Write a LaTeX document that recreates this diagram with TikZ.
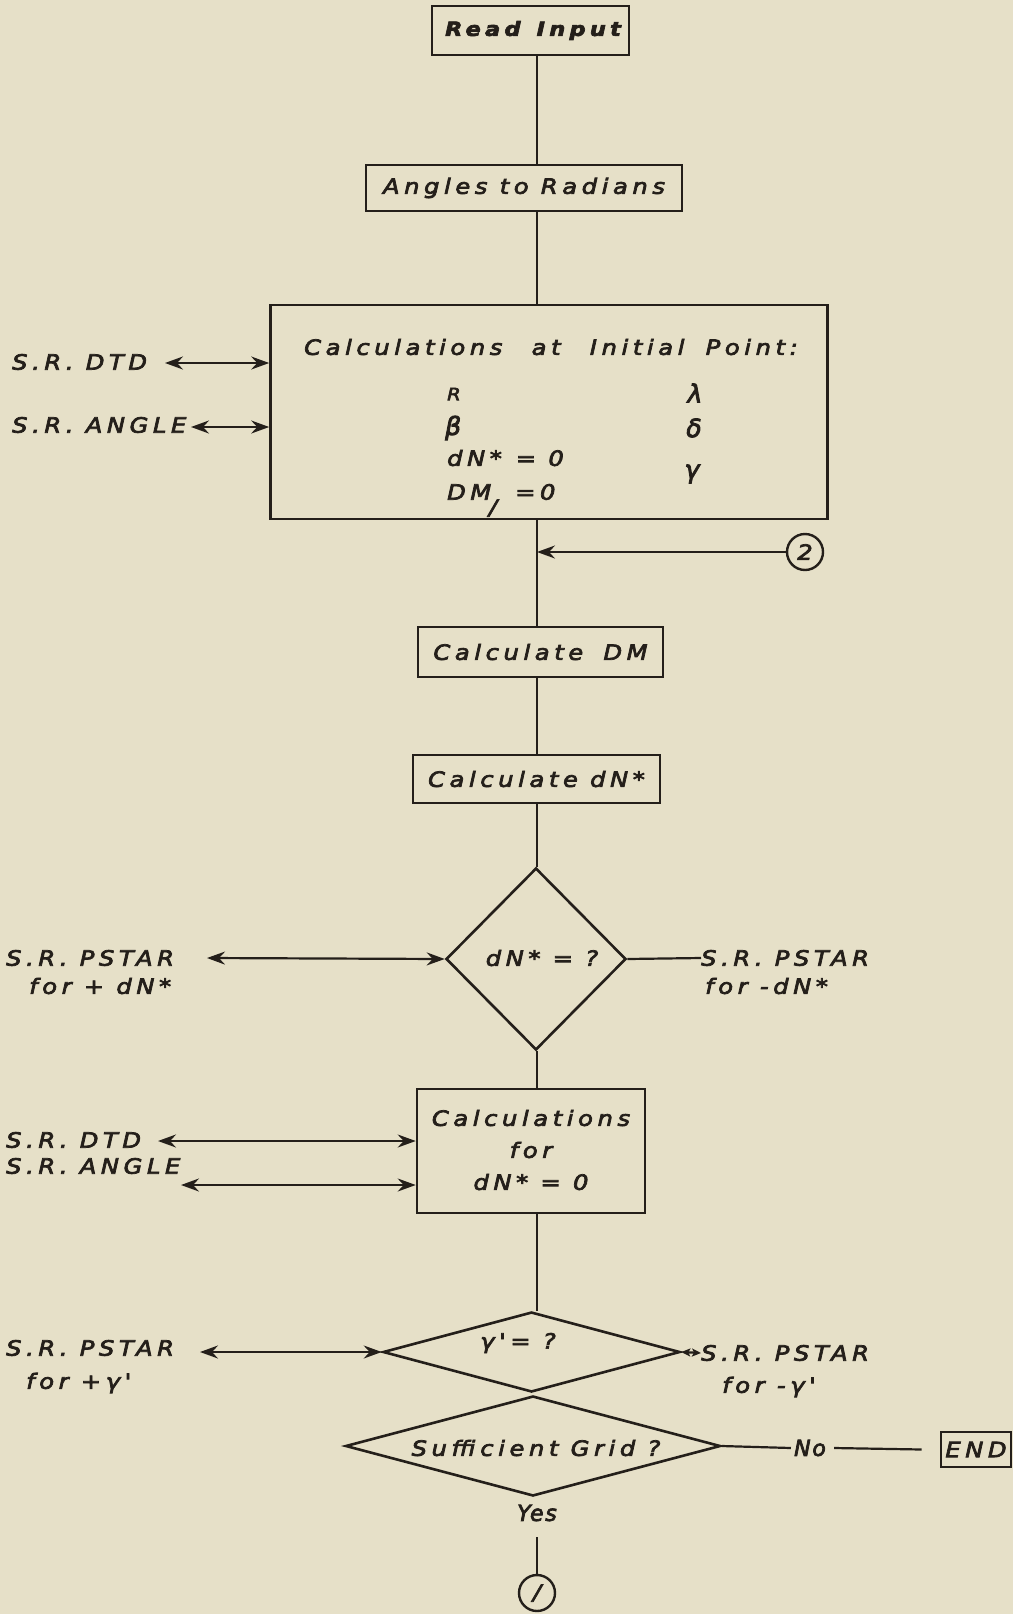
\documentclass[tikz,border=0pt]{standalone}
\usepackage{fontspec}
\usetikzlibrary{shapes.geometric,arrows.meta}
\newfontfamily\lettfont[LetterSpace=22,FakeStretch=1.15,FakeBold=3.5]{DejaVu Sans}
\newfontfamily\plainfont[LetterSpace=8,FakeBold=3.5]{DejaVu Sans}
\newcommand{\lett}{\lettfont\itshape\fontsize{21}{25}\selectfont}
\newcommand{\lettsm}{\lettfont\itshape\fontsize{17}{20}\selectfont}
\newcommand{\lettgr}{\plainfont\itshape\fontsize{25}{28}\selectfont}
\newcommand{\yesno}{\plainfont\itshape\fontsize{22}{26}\selectfont}
\definecolor{paper}{RGB}{230,224,200}
\definecolor{inkc}{RGB}{36,31,26}
\tikzset{
  box/.style={draw=inkc, line width=2.6pt, rectangle, inner sep=0pt, text=inkc, font=\lett},
  dia/.style={draw=inkc, line width=2.6pt, diamond, inner sep=0pt, text=inkc, font=\lett},
  circ/.style={draw=inkc, line width=2.4pt, circle, inner sep=0pt, minimum size=36pt, text=inkc, font=\lett},
  lbl/.style={text=inkc, font=\lett, inner sep=0pt},
  conn/.style={draw=inkc, line width=2.2pt},
  dbl/.style={conn, {Stealth[length=18pt,width=13pt,inset=6pt]}-{Stealth[length=18pt,width=13pt,inset=6pt]}},
  sdbl/.style={conn, {Stealth[length=9pt,width=8pt,inset=2pt]}-{Stealth[length=9pt,width=8pt,inset=2pt]}},
}
\begin{document}
\begin{tikzpicture}[x=1pt,y=-1pt]
\fill[paper] (0,0) rectangle (1013,1614);
\useasboundingbox (0,0) rectangle (1013,1614);
\coordinate (spine) at (537,0);

% main boxes
\node[box, minimum width=197pt, minimum height=49pt] (read) at (530.5,30.5) {\hspace{5pt}\fontsize{19.5}{24}\selectfont\bfseries Read\hspace{4pt} Input};
\node[box, minimum width=316pt, minimum height=46pt] (angles) at (524,188) {Angles to Radians};
\node[box, minimum width=557pt, minimum height=214pt] (init) at (549,412) {};
\node[box, minimum width=245pt, minimum height=50pt] (calcdm) at (540.5,652) {Calculate\hspace{8pt} DM};
\node[box, minimum width=247pt, minimum height=48pt] (calcdn) at (536.5,779) {Calculate dN*};
\node[dia, minimum width=180pt, minimum height=182pt] (dia1) at (536,959) {};
\node[box, minimum width=228pt, minimum height=124pt] (calc0) at (531,1151) {};
\node[dia, minimum width=297pt, minimum height=80pt] (dia2) at (531.5,1352) {};
\node[dia, minimum width=375pt, minimum height=100pt] (dia3) at (533,1446) {};
\node[box, minimum width=70pt, minimum height=35pt] (endbox) at (976,1449.5) {END};
\node[circ] (circ2) at (805,552) {2};
\node[circ] (circ1) at (537,1593) {/};

% texts in the initial-point box
\node[lbl] (title) at (551,347) {Calculations\hspace{17pt} at\hspace{17pt} Initial\hspace{9pt} Point:};
\node[lbl, font=\lettsm, anchor=west] (tR) at (447,394) {R};
\node[lbl, font=\lettgr] (tlam) at (695,393) {λ};
\node[lbl, font=\lettgr, anchor=west] (tbeta) at (445,428) {β};
\node[lbl, font=\lettgr] (tdel) at (694,428) {δ};
\node[lbl, anchor=west] (tdn) at (447,458) {dN*\hspace{14pt}= 0};
\node[lbl, font=\lettgr] (tgam) at (692,474) {γ};
\node[lbl, anchor=west] (tdm) at (447,492) {DM};
\node[lbl] (tdmsub) at (493,508) {/};
\node[lbl, anchor=west] (tdmeq) at (515,492) {=0};

% texts in the other nodes
\node[lbl] (t1) at (542,958) {dN* = ?};
\node[lbl, align=center, font=\lettfont\itshape\fontsize{21}{32}\selectfont] (t2) at (531,1150) {Calculations\\for\\dN* = 0};
\node[lbl] (t3) at (518,1343) {γ'= ?};
\node[lbl] (t4) at (536,1448) {Sufficient Grid ?};
\node[lbl, font=\yesno] (yes) at (537,1513) {Yes};
\node[lbl, font=\yesno] (no) at (810,1448) {No};

% side labels
\node[lbl, anchor=west] (srdtd1) at (12,362) {S.R. DTD};
\node[lbl, anchor=west] (srang1) at (12,425) {S.R. ANGLE};
\node[lbl, anchor=west] (psL1) at (6,958) {S.R. PSTAR};
\node[lbl, anchor=west] (foL1) at (29,986) {for + dN*};
\node[lbl, anchor=west] (psR1) at (701,958) {S.R. PSTAR};
\node[lbl, anchor=west] (foR1) at (705,986) {for -dN*};
\node[lbl, anchor=west] (srdtd2) at (6,1140) {S.R. DTD};
\node[lbl, anchor=west] (srang2) at (6,1166) {S.R. ANGLE};
\node[lbl, anchor=west] (psL2) at (6,1348) {S.R. PSTAR};
\node[lbl, anchor=west] (foL2) at (26,1383) {for +γ'};
\node[lbl, anchor=west] (psR2) at (701,1353) {S.R. PSTAR};
\node[lbl, anchor=west] (foR2) at (722,1387) {for -γ'};

% free ends of arrows
\coordinate (a1) at (165,363);
\coordinate (a2) at (191,427);
\coordinate (a3) at (207,958);
\coordinate (a4) at (158,1141);
\coordinate (a5) at (181,1185);
\coordinate (a6) at (200,1352);

% main spine
\draw[conn] (read.south -| spine) -- (angles.north -| spine);
\draw[conn] (angles.south -| spine) -- (init.north -| spine);
\draw[conn] (init.south -| spine) -- (calcdm.north -| spine);
\draw[conn] (calcdm.south -| spine) -- (calcdn.north -| spine);
\draw[conn] (calcdn.south -| spine) -- (dia1.north -| spine);
\draw[conn] (dia1.south -| spine) -- (calc0.north -| spine);
\draw[conn] (calc0.south -| spine) -- (dia2.north -| spine);
\draw[conn] ([yshift=-16pt]yes.south) -- (circ1.north);
\draw[conn, -{Stealth[length=18pt,width=13pt,inset=6pt]}] (circ2.west) -- (circ2.west -| spine);

% side connectors
\draw[dbl] (a1) -- (init.west |- a1);
\draw[dbl] (a2) -- (init.west |- a2);
\draw[dbl] (a3) -- (dia1.west);
\draw[conn] (dia1.east) -- (psR1.west);
\draw[dbl] (a4) -- (calc0.west |- a4);
\draw[dbl] (a5) -- (calc0.west |- a5);
\draw[dbl] (a6) -- (dia2.west);
\draw[sdbl] (dia2.east) -- (psR2.west);
\draw[conn] (dia3.east) -- ([xshift=-3pt]no.west);
\draw[conn] ([xshift=8pt]no.east) -- ([xshift=-18pt]endbox.west);
\end{tikzpicture}
\end{document}
